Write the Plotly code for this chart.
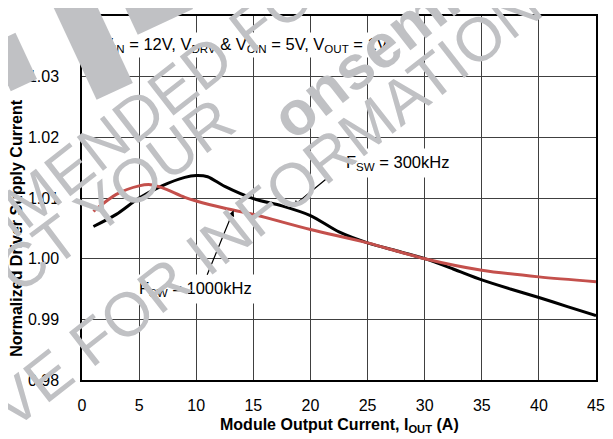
import plotly.graph_objects as go

# ---- data ----
x_300k = [1, 3, 5, 7, 9, 10, 11, 12.5, 15, 17.5, 20, 22.5, 25, 27.5, 30, 32.5, 35, 37.5, 40, 42.5, 45]
y_300k = [1.0053, 1.0073, 1.0100, 1.0120, 1.0134, 1.0137, 1.0135, 1.0119, 1.0099, 1.0087, 1.0071,
          1.0044, 1.0026, 1.0013, 1.0000, 0.9983, 0.9965, 0.9950, 0.9936, 0.9921, 0.9906]

x_1000k = [1, 3, 5, 6, 7, 9, 10, 12.5, 15, 20, 25, 30, 35, 40, 45]
y_1000k = [1.0078, 1.0106, 1.0120, 1.0122, 1.0117, 1.0101, 1.0095, 1.0083, 1.0073, 1.0048,
           1.0026, 1.0000, 0.9981, 0.9970, 0.9962]

x_ticks = [0, 5, 10, 15, 20, 25, 30, 35, 40, 45]
y_ticks = [0.98, 0.99, 1.00, 1.01, 1.02, 1.03, 1.04]

FONT = "Liberation Sans, Arial, sans-serif"
OFF = 8  # page body margin
W, H = 613 - OFF, 439 - OFF
L, T = 82 - OFF, 14 - OFF
R = W - (596 - OFF)
B = H - (380 - OFF)
PW, PH = W - L - R, H - T - B


def px(xp):
    """screen x pixel -> paper"""
    return (xp - OFF - L) / PW


def py(yp):
    """screen y pixel -> paper"""
    return (H - B - (yp - OFF)) / PH


fig = go.Figure()
fig.add_trace(go.Scatter(x=x_300k, y=y_300k, mode="lines",
                         line=dict(color="black", width=3, shape="spline", smoothing=0.8),
                         showlegend=False))
fig.add_trace(go.Scatter(x=x_1000k, y=y_1000k, mode="lines",
                         line=dict(color="#c4504c", width=3, shape="spline", smoothing=0.8),
                         showlegend=False))

ann = []
ann.append(dict(text="V<sub>IN</sub> = 12V, V<sub>DRV</sub> & V<sub>CIN</sub> = 5V, V<sub>OUT</sub> = 1V",
                xref="paper", yref="paper", x=px(245), y=py(43), showarrow=False,
                xanchor="center", yanchor="middle", bgcolor="white", borderpad=2,
                font=dict(size=16.5, color="black", family=FONT)))
ann.append(dict(text="F<sub>SW</sub> = 300kHz", xref="paper", yref="paper",
                x=px(397), y=py(162), showarrow=False, xanchor="center", yanchor="middle",
                bgcolor="white", borderpad=4, font=dict(size=16.5, color="black", family=FONT)))
ann.append(dict(text="F<sub>SW</sub> = 1000kHz", xref="paper", yref="paper",
                x=px(195), y=py(288), showarrow=False, xanchor="center", yanchor="middle",
                bgcolor="white", borderpad=4, font=dict(size=16.5, color="black", family=FONT)))
ann.append(dict(text="", x=18.48, y=1.00864, xref="x", yref="y", ax=34, ay=-28,
                showarrow=True, arrowhead=2, arrowsize=1, arrowwidth=1.2, arrowcolor="black"))
ann.append(dict(text="", x=13.27, y=1.00797, xref="x", yref="y", ax=-27, ay=66,
                showarrow=True, arrowhead=2, arrowsize=1, arrowwidth=1.2, arrowcolor="black"))
ann.append(dict(text="<b>Normalized Driver Supply Current</b>", xref="paper", yref="paper",
                x=px(17), y=py(227), textangle=-90, showarrow=False,
                xanchor="center", yanchor="middle", font=dict(size=16, color="black", family=FONT)))
ann.append(dict(text="<b>Module Output Current, I<sub>OUT</sub> (A)</b>", xref="paper", yref="paper",
                x=px(339), y=py(426), showarrow=False,
                xanchor="center", yanchor="middle", font=dict(size=16, color="black", family=FONT)))

WM = "#c0c1c4"


def band(cx, cy, w, h, ang):
    return dict(text=" ", xref="paper", yref="paper", x=px(cx), y=py(cy), width=w, height=h,
                textangle=ang, bgcolor=WM, showarrow=False, xanchor="center", yanchor="middle",
                borderpad=0)


ann.append(band(92, 42, 39, 105, -25))
ann.append(band(13, 60, 28, 50, -25))
ann.append(band(158, 4, 60, 34, -25))


def wm(text, cx, cy, ang, size=62):
    return dict(text=text, xref="paper", yref="paper", x=px(cx), y=py(cy), textangle=ang,
                showarrow=False, xanchor="center", yanchor="middle",
                font=dict(size=size, color=WM, family=FONT))


ann.append(wm("RECOMMENDED FOR NEW DESIGN", 250, 27, -38))
ann.append(wm("CT YOUR", 115, 194, -37))
ann.append(wm("<b>onsemi</b>", 365, 57, -38))
ann.append(wm("VE FOR INFORMATION", 266, 205, -38))

fig.update_layout(
    width=W, height=H,
    margin=dict(l=L, r=R, t=T, b=B),
    paper_bgcolor="white", plot_bgcolor="white",
    font=dict(family=FONT, size=16, color="black"),
    annotations=ann,
)
fig.update_xaxes(range=[0, 45], tickvals=x_ticks, ticktext=[str(v) for v in x_ticks],
                 showgrid=True, gridcolor="#404040", gridwidth=1,
                 showline=True, linecolor="black", linewidth=1.5, mirror=True,
                 ticks="", ticklabelstandoff=10, zeroline=False,
                 tickfont=dict(size=16, color="black", family=FONT))
fig.update_yaxes(range=[0.98, 1.04], tickvals=y_ticks, ticktext=[f"{v:.2f}" for v in y_ticks],
                 showgrid=True, gridcolor="#404040", gridwidth=1,
                 showline=True, linecolor="black", linewidth=1.5, mirror=True,
                 ticks="", ticklabelstandoff=18, zeroline=False,
                 tickfont=dict(size=16, color="black", family=FONT))

fig.write_html("out.html")
